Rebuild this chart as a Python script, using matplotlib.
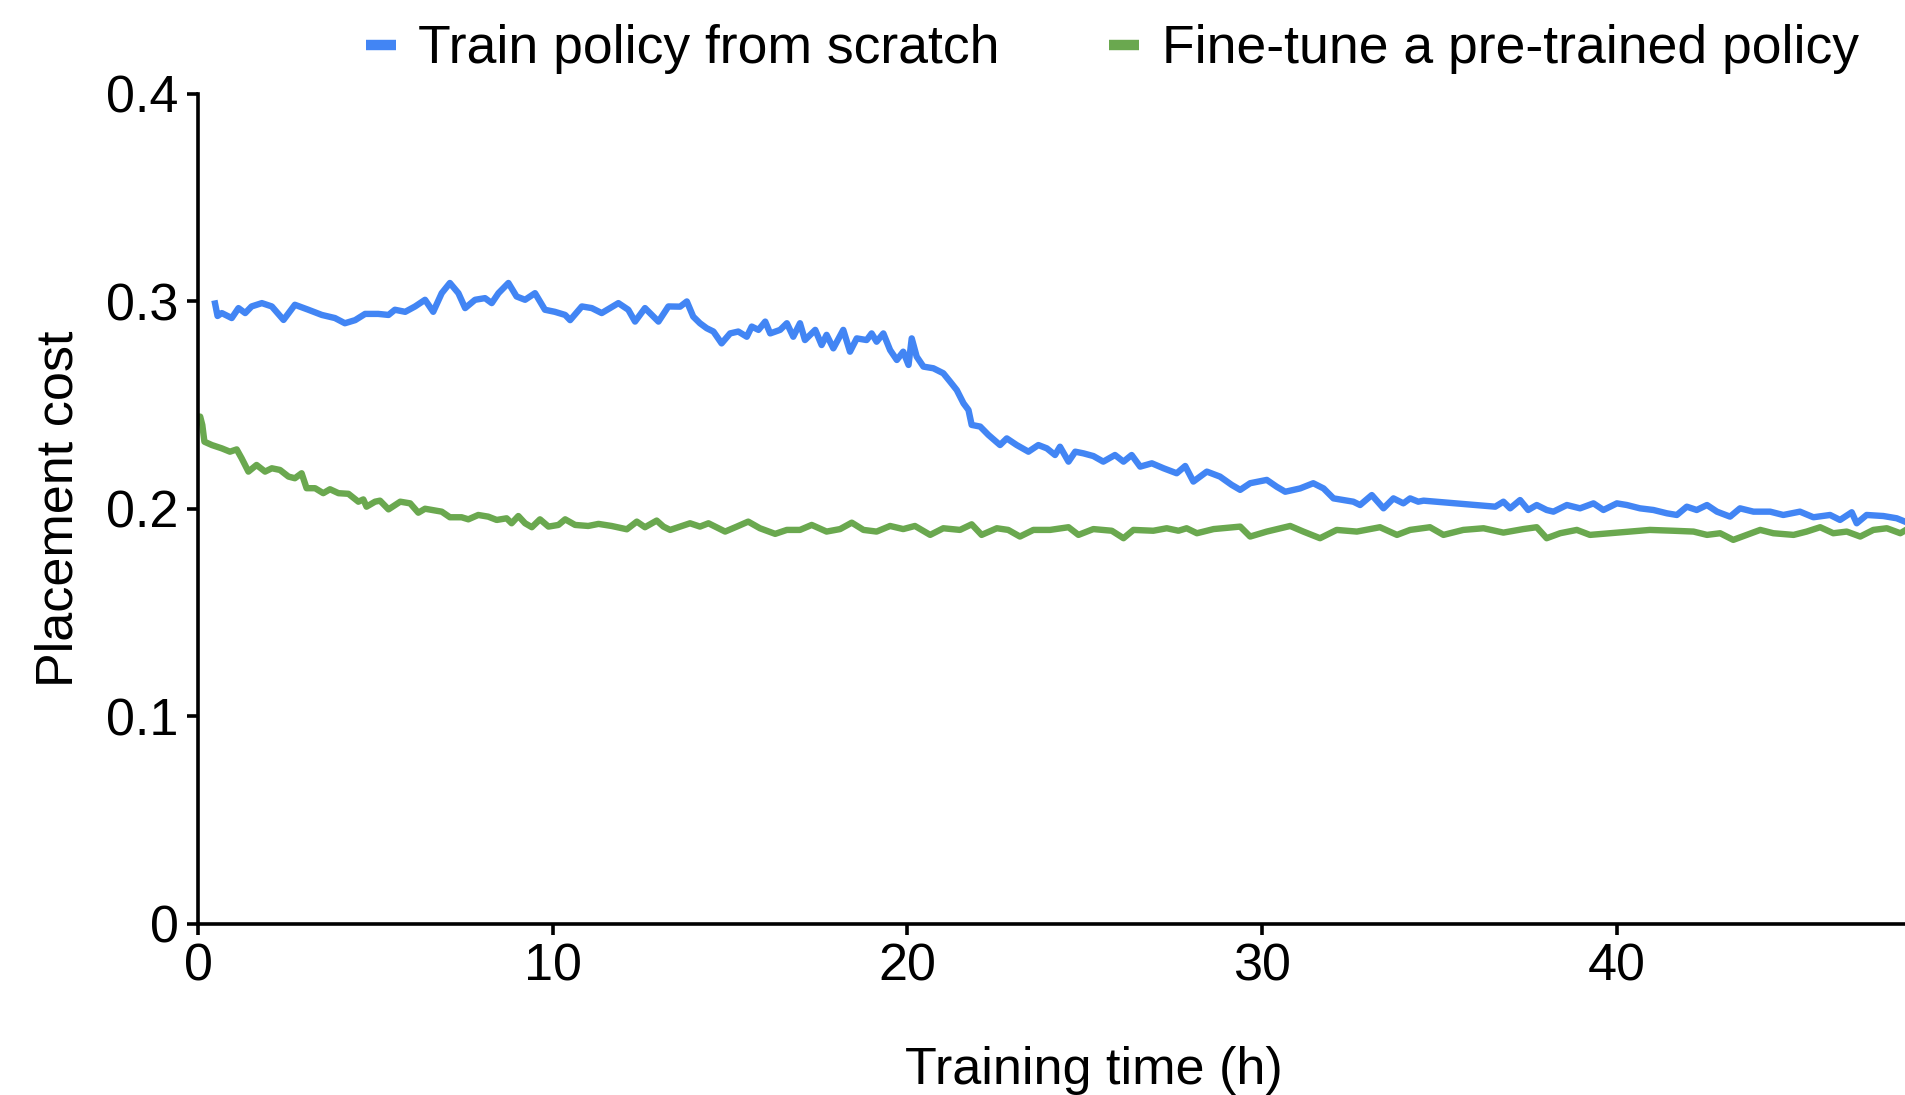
import matplotlib
matplotlib.use("Agg")
import matplotlib.pyplot as plt
from matplotlib.lines import Line2D

plt.rcParams['font.family'] = ['Liberation Sans', 'DejaVu Sans']

# training time (h) and placement cost
scratch_t = [0.48, 0.55, 0.67, 0.95, 1.14, 1.33, 1.51, 1.80, 2.08, 2.41, 2.73, 3.11, 3.49, 3.86,
             4.14, 4.43, 4.71, 5.08, 5.37, 5.55, 5.84, 6.12, 6.40, 6.63, 6.87, 7.10, 7.34, 7.53,
             7.81, 8.09, 8.28, 8.47, 8.75, 8.98, 9.22, 9.50, 9.78, 10.06, 10.35, 10.49, 10.82,
             11.10, 11.38, 11.85, 12.13, 12.32, 12.60, 12.98, 13.26, 13.59, 13.78, 13.96, 14.15,
             14.34, 14.53, 14.76, 15.00, 15.23, 15.47, 15.61, 15.80, 15.99, 16.13, 16.41, 16.60,
             16.78, 16.97, 17.11, 17.40, 17.58, 17.72, 17.91, 18.19, 18.38, 18.57, 18.85, 18.99,
             19.13, 19.32, 19.51, 19.70, 19.88, 20.03, 20.12, 20.26, 20.45, 20.73, 21.01, 21.20,
             21.39, 21.58, 21.72, 21.81, 22.05, 22.28, 22.61, 22.80, 23.08, 23.41, 23.69, 23.93,
             24.16, 24.30, 24.54, 24.73, 24.96, 25.24, 25.52, 25.85, 26.09, 26.32, 26.56, 26.89,
             27.22, 27.59, 27.83, 28.06, 28.44, 28.81, 29.14, 29.38, 29.66, 30.13, 30.41, 30.65,
             31.07, 31.44, 31.73, 32.01, 32.29, 32.57, 32.76, 33.09, 33.42, 33.70, 33.98, 34.17,
             34.40, 34.55, 36.57, 36.80, 36.99, 37.27, 37.50, 37.74, 38.02, 38.21, 38.59, 38.96,
             39.34, 39.62, 40.00, 40.28, 40.65, 41.03, 41.41, 41.69, 41.97, 42.25, 42.54, 42.82,
             43.19, 43.47, 43.85, 44.32, 44.69, 45.16, 45.54, 46.01, 46.29, 46.62, 46.76, 47.04,
             47.51, 47.89, 48.12]
scratch_cost = [0.299, 0.293, 0.2944, 0.292, 0.2968, 0.2944, 0.2976, 0.2992, 0.2976, 0.2911, 0.2984,
                0.296, 0.2935, 0.292, 0.2895, 0.291, 0.294, 0.294, 0.2935, 0.296, 0.295, 0.2976,
                0.3008, 0.295, 0.304, 0.3089, 0.304, 0.2968, 0.3008, 0.3016, 0.2992, 0.304, 0.3089,
                0.3024, 0.3008, 0.304, 0.296, 0.295, 0.2935, 0.291, 0.2976, 0.2968, 0.2944, 0.2992,
                0.296, 0.2903, 0.2968, 0.2903, 0.2976, 0.2975, 0.300, 0.2927, 0.2895, 0.2871, 0.2855,
                0.2798, 0.2846, 0.2855, 0.283, 0.2879, 0.2863, 0.2903, 0.2846, 0.2863, 0.2895, 0.283,
                0.2895, 0.2814, 0.2863, 0.279, 0.2839, 0.2774, 0.2863, 0.2758, 0.2822, 0.2814, 0.2846,
                0.2806, 0.2846, 0.2766, 0.2718, 0.2758, 0.2694, 0.2822, 0.2734, 0.2686, 0.2678,
                0.2654, 0.2614, 0.2573, 0.2509, 0.2477, 0.2405, 0.2397, 0.2357, 0.2308, 0.234,
                0.2308, 0.2276, 0.2308, 0.2292, 0.226, 0.230, 0.2228, 0.2276, 0.2268, 0.2255, 0.2228,
                0.226, 0.2228, 0.226, 0.2204, 0.222, 0.2196, 0.2172, 0.2207, 0.2132, 0.218, 0.2156,
                0.2116, 0.2092, 0.2124, 0.214, 0.2107, 0.2083, 0.2099, 0.2124, 0.2099, 0.2051,
                0.2043, 0.2035, 0.2019, 0.2067, 0.2003, 0.2051, 0.2027, 0.2051, 0.2035, 0.204,
                0.2011, 0.2035, 0.2003, 0.2043, 0.1995, 0.2019, 0.1995, 0.1987, 0.2019, 0.2003,
                0.2027, 0.1995, 0.2027, 0.2019, 0.2003, 0.1995, 0.1979, 0.1971, 0.2011, 0.1995,
                0.2019, 0.1987, 0.1963, 0.2003, 0.1987, 0.1987, 0.1971, 0.1987, 0.1960, 0.1971,
                0.1947, 0.1984, 0.1931, 0.1971, 0.1966, 0.1955, 0.1939]

finetune_t = [0.00, 0.06, 0.12, 0.18, 0.39, 0.67, 0.90, 1.09, 1.23, 1.42, 1.65, 1.89, 2.08, 2.31,
              2.55, 2.73, 2.92, 3.06, 3.30, 3.53, 3.72, 3.96, 4.24, 4.52, 4.66, 4.75, 4.99, 5.13,
              5.37, 5.70, 5.98, 6.21, 6.40, 6.87, 7.10, 7.43, 7.62, 7.90, 8.18, 8.42, 8.70, 8.84,
              9.03, 9.22, 9.41, 9.64, 9.88, 10.16, 10.35, 10.63, 11.00, 11.29, 11.66, 12.09, 12.37,
              12.60, 12.93, 13.12, 13.31, 13.59, 13.87, 14.15, 14.39, 14.86, 15.19, 15.51, 15.84,
              16.27, 16.60, 16.97, 17.30, 17.72, 18.10, 18.43, 18.76, 19.13, 19.51, 19.88, 20.21,
              20.64, 21.01, 21.48, 21.81, 22.09, 22.52, 22.84, 23.17, 23.55, 24.02, 24.54, 24.82,
              25.24, 25.76, 26.09, 26.37, 26.93, 27.31, 27.64, 27.87, 28.16, 28.63, 29.38, 29.66,
              30.13, 30.79, 31.16, 31.63, 32.10, 32.67, 33.32, 33.80, 34.17, 34.73, 35.11, 35.67,
              36.24, 36.80, 37.36, 37.74, 38.02, 38.40, 38.87, 39.24, 39.81, 40.37, 40.93, 41.59,
              42.16, 42.54, 42.91, 43.28, 43.66, 44.04, 44.41, 44.98, 45.35, 45.73, 46.10, 46.48,
              46.86, 47.23, 47.61, 47.99, 48.15]
finetune_cost = [0.2445, 0.2445, 0.2405, 0.2324, 0.2308, 0.2292, 0.2276, 0.2287, 0.2244, 0.218,
                 0.2212, 0.218, 0.2196, 0.2188, 0.2156, 0.2148, 0.2172, 0.210, 0.210, 0.2076,
                 0.2095, 0.2076, 0.2073, 0.2035, 0.2046, 0.2011, 0.2035, 0.204, 0.1998, 0.2035,
                 0.2027, 0.1982, 0.2001, 0.1987, 0.196, 0.196, 0.195, 0.1971, 0.1963, 0.1947,
                 0.1955, 0.1931, 0.1966, 0.1931, 0.1912, 0.195, 0.1915, 0.1923, 0.195, 0.1923,
                 0.1918, 0.1928, 0.1918, 0.1902, 0.1939, 0.1912, 0.1944, 0.1915, 0.1899, 0.1915,
                 0.1931, 0.1915, 0.1931, 0.1891, 0.1915, 0.1939, 0.1907, 0.188, 0.1899, 0.1899,
                 0.1923, 0.1891, 0.1903, 0.1934, 0.1899, 0.1891, 0.1918, 0.1903, 0.1918, 0.1875,
                 0.1907, 0.1899, 0.1926, 0.1875, 0.1907, 0.1899, 0.1867, 0.1899, 0.1899, 0.1912,
                 0.1875, 0.1903, 0.1895, 0.1859, 0.1899, 0.1895, 0.1907, 0.1895, 0.1907, 0.1883,
                 0.1903, 0.1915, 0.1867, 0.1891, 0.1918, 0.1891, 0.1859, 0.1899, 0.1891, 0.1912,
                 0.1875, 0.1899, 0.1912, 0.1875, 0.1899, 0.1907, 0.1886, 0.1903, 0.1912, 0.1859,
                 0.1883, 0.1899, 0.1875, 0.1883, 0.1891, 0.1899, 0.1895, 0.1891, 0.1875, 0.1883,
                 0.1851, 0.1875, 0.1899, 0.1883, 0.1875, 0.1891, 0.1912, 0.1883, 0.1891, 0.1867,
                 0.1899, 0.1907, 0.1883, 0.1899]

x_ticks = [0, 10, 20, 30, 40]
y_ticks = [0, 0.1, 0.2, 0.3, 0.4]
y_ticklabels = ['0', '0.1', '0.2', '0.3', '0.4']

blue = '#4285F4'
green = '#6AA84F'
fs = 37.5
fs_leg = 38.5

fig = plt.figure(figsize=(19.06, 10.95), dpi=100)
ax = fig.add_axes([0.1039, 0.1562, 0.8961, 0.758])

ax.plot(scratch_t, scratch_cost, color=blue, lw=4.6, solid_joinstyle='round')
ax.plot(finetune_t, finetune_cost, color=green, lw=4.6, solid_joinstyle='round')

ax.set_xlim(0, 48.15)
ax.set_ylim(0, 0.4)
ax.set_xticks(x_ticks)
ax.set_yticks(y_ticks)
ax.set_yticklabels(y_ticklabels)

for s in ['top', 'right']:
    ax.spines[s].set_visible(False)
for s in ['left', 'bottom']:
    ax.spines[s].set_linewidth(2.6)
ax.tick_params(axis='both', width=2.6, length=8, labelsize=fs, direction='out')
ax.tick_params(axis='x', pad=5)
ax.tick_params(axis='y', pad=6)

ax.set_xlabel('Training time (h)', fontsize=fs)
ax.xaxis.set_label_coords(0.5246, -0.147)
ax.set_ylabel('Placement cost', fontsize=fs)
ax.yaxis.set_label_coords(-0.067, 0.5)

handles = [Line2D([], [], color=blue, lw=7.5, solid_capstyle='butt'),
           Line2D([], [], color=green, lw=7.5, solid_capstyle='butt')]
fig.legend(handles, ['Train policy from scratch', 'Fine-tune a pre-trained policy'],
           loc='center', bbox_to_anchor=(0.5835, 0.955), ncol=2, frameon=False,
           fontsize=fs_leg, handlelength=0.56, handletextpad=0.42, columnspacing=2.05,
           borderpad=0, borderaxespad=0)

fig.savefig('out.png', dpi=100)
